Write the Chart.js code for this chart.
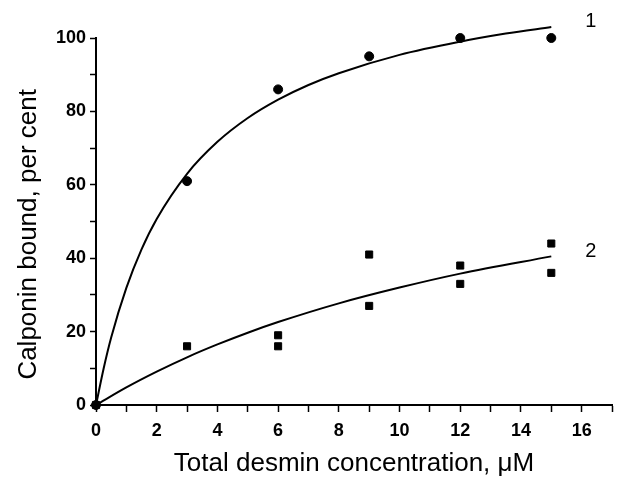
<!DOCTYPE html>
<html>
<head>
<meta charset="utf-8">
<script src="https://cdn.jsdelivr.net/npm/chart.js@4"></script>
<style>
  html, body { margin: 0; padding: 0; background: #fff; }
  #wrap { width: 620px; height: 479px; }
</style>
</head>
<body>
<div id="wrap"><canvas id="bindingChart"></canvas></div>
<script>
// measured points (desmin uM -> calponin bound %)
const desmin1 = [0, 3, 6, 9, 12, 15];
const bound1 = [0, 61, 86, 95, 100, 100];
const desmin2 = [0, 3, 6, 6, 9, 9, 12, 12, 15, 15];
const bound2 = [0, 16, 19, 16, 41, 27, 38, 33, 44, 36];

// fitted curves
const fitX1 = [0, 0.25, 0.5, 1, 1.5, 2, 3, 4, 5, 6, 7, 8, 10, 12, 13.5, 15];
const fitY1 = [0, 9.9, 18.4, 31.9, 42.4, 50.7, 63, 71.7, 78.2, 83.2, 87.2, 90.4, 95.4, 99.0, 101.2, 103];
const fitX2 = [0, 1, 2, 3, 4, 5, 6, 8, 10, 12, 15];
const fitY2 = [0, 4.8, 9.1, 13, 16.5, 19.7, 22.6, 27.7, 32, 35.8, 40.5];

const curveLabels = ['1', '2'];
const curveLabelX = [16.3, 16.3];
const curveLabelY = [104.6, 41.7];

const xTicks = [0, 1, 2, 3, 4, 5, 6, 7, 8, 9, 10, 11, 12, 13, 14, 15, 16, 17];
const yTicks = [0, 10, 20, 30, 40, 50, 60, 70, 80, 90, 100];

const xTitle = 'Total desmin concentration, \u03bcM';
const yTitle = 'Calponin bound, per cent';

function pairs(xs, ys) {
  return xs.map((x, i) => ({ x: x, y: ys[i] }));
}

const fontFamily = '"Liberation Sans", Arial, sans-serif';

// curve numbers and the y title (placed a bit below the axis centre, as in the figure)
const extraText = {
  id: 'extraText',
  afterDraw(chart) {
    const ctx = chart.ctx;
    const xs = chart.scales.x, ys = chart.scales.y;
    ctx.save();
    ctx.fillStyle = '#000';
    ctx.font = '20px ' + fontFamily;
    ctx.textAlign = 'center';
    ctx.textBaseline = 'middle';
    curveLabels.forEach((t, i) => {
      ctx.fillText(t, xs.getPixelForValue(curveLabelX[i]), ys.getPixelForValue(curveLabelY[i]));
    });
    ctx.font = '26px ' + fontFamily;
    ctx.translate(29, ys.getPixelForValue(46.5));
    ctx.rotate(-Math.PI / 2);
    ctx.fillText(yTitle, 0, 0);
    ctx.restore();
  }
};

const tickFont = { family: fontFamily, size: 18, weight: 'bold' };
const titleFont = { family: fontFamily, size: 26 };

new Chart(document.getElementById('bindingChart'), {
  type: 'scatter',
  data: {
    datasets: [
      {
        data: pairs(fitX1, fitY1),
        showLine: true,
        borderColor: '#000',
        borderWidth: 2,
        pointRadius: 0,
        cubicInterpolationMode: 'monotone',
        clip: false
      },
      {
        data: pairs(fitX2, fitY2),
        showLine: true,
        borderColor: '#000',
        borderWidth: 2,
        pointRadius: 0,
        cubicInterpolationMode: 'monotone',
        clip: false
      },
      {
        data: pairs(desmin1, bound1),
        pointStyle: 'circle',
        pointRadius: 4.5,
        backgroundColor: '#000',
        borderColor: '#000',
        clip: false
      },
      {
        data: pairs(desmin2, bound2),
        pointStyle: 'rect',
        pointRadius: 5,
        backgroundColor: '#000',
        borderColor: '#000',
        clip: false
      }
    ]
  },
  options: {
    responsive: true,
    maintainAspectRatio: false,
    animation: false,
    layout: { padding: { top: 38, right: 8, left: 0, bottom: 0 } },
    plugins: {
      legend: { display: false },
      tooltip: { enabled: false }
    },
    scales: {
      x: {
        type: 'linear',
        min: 0,
        max: 17,
        afterBuildTicks: (axis) => { axis.ticks = xTicks.map(v => ({ value: v })); },
        afterFit: (axis) => { axis.height = 74; },
        border: { display: true, color: '#000', width: 2 },
        grid: { drawOnChartArea: false, drawTicks: true, tickLength: 7, tickColor: '#000', tickWidth: 1.5 },
        ticks: {
          color: '#000',
          font: tickFont,
          padding: 8,
          maxRotation: 0,
          autoSkip: false,
          callback: (v) => (v % 2 === 0 && v <= 16 ? String(v) : '')
        },
        title: {
          display: true,
          text: xTitle,
          color: '#000',
          font: titleFont,
          padding: { top: 0, bottom: 0 }
        }
      },
      y: {
        type: 'linear',
        min: 0,
        max: 100,
        afterBuildTicks: (axis) => { axis.ticks = yTicks.map(v => ({ value: v })); },
        afterFit: (axis) => { axis.width = 96; },
        border: { display: true, color: '#000', width: 2 },
        grid: { drawOnChartArea: false, drawTicks: true, tickLength: 6, tickColor: '#000', tickWidth: 1.5 },
        ticks: {
          color: '#000',
          font: tickFont,
          padding: 4,
          autoSkip: false,
          callback: (v) => (v % 20 === 0 ? String(v) : '')
        }
      }
    }
  },
  plugins: [extraText]
});
</script>
</body>
</html>
